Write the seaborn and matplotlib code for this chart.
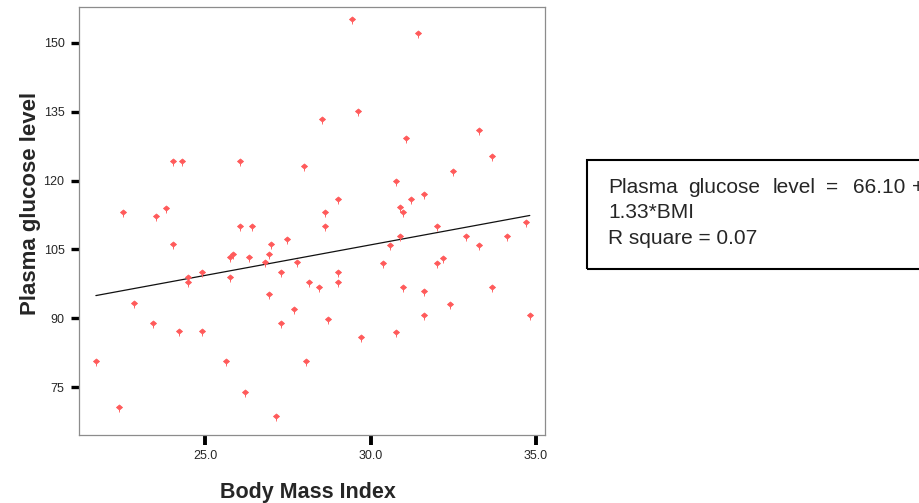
import numpy as np
import pandas as pd
import matplotlib
matplotlib.use("Agg")
import matplotlib.pyplot as plt
import seaborn as sns
from matplotlib.path import Path
from matplotlib.patches import Rectangle

# ---------------- data ----------------
bmi = [24.02, 24.31, 26.04, 28.00, 22.51, 23.52, 23.81, 29.45, 31.42, 29.62,
       28.53, 31.06, 33.28, 33.68, 32.49, 30.78, 29.02, 31.61, 31.22, 30.88,
       30.98, 28.61, 34.70, 26.04, 26.42, 24.02, 27.48, 27.00, 25.83, 25.74,
       26.93, 26.33, 26.80, 27.78, 24.49, 24.49, 24.91, 25.74, 27.30, 28.15,
       22.84, 26.93, 27.70, 23.44, 27.30, 24.21, 24.91, 21.70, 25.64, 28.06,
       26.21, 22.39, 27.13, 28.61, 32.02, 30.89, 32.87, 34.11, 30.59, 33.28,
       30.39, 32.02, 32.20, 29.02, 29.02, 28.44, 30.99, 31.61, 33.68, 32.40,
       28.72, 31.61, 34.81, 29.71, 30.78]
glucose = [124.3, 124.3, 124.3, 123.2, 113.2, 112.3, 114.0, 155.2, 152.2, 135.1,
           133.3, 129.2, 131.1, 125.3, 122.1, 119.9, 116.0, 117.1, 116.0, 114.2,
           113.2, 113.2, 111.0, 110.0, 110.0, 106.1, 107.2, 106.1, 104.1, 103.3,
           104.1, 103.3, 102.2, 102.2, 99.1, 98.0, 100.0, 99.1, 100.0, 98.0,
           93.3, 95.2, 92.1, 88.9, 88.9, 87.2, 87.2, 80.8, 80.8, 80.8,
           74.0, 70.8, 68.8, 110.0, 110.0, 108.0, 108.0, 108.0, 106.0, 106.0,
           102.1, 102.1, 103.1, 100.0, 98.0, 96.9, 96.9, 96.0, 96.9, 93.2,
           89.9, 90.7, 90.7, 86.0, 87.1]
intercept = 66.10
slope = 1.33
r_square = 0.07
x_ticks = [25.0, 30.0, 35.0]
x_ticklabels = ["25.0", "30.0", "35.0"]
y_ticks = [75, 90, 105, 120, 135, 150]
y_ticklabels = ["75", "90", "105", "120", "135", "150"]
x_title = "Body Mass Index"
y_title = "Plasma glucose level"

# ---------------- style ----------------
sns.set_style("white")
plt.rcParams["font.family"] = ["Liberation Sans", "DejaVu Sans"]

W, H = 919, 503
fig = plt.figure(figsize=(W / 100, H / 100), dpi=100)


def fx(px):
    return px / W


def fy(py):
    return 1 - py / H


ax_l, ax_r, ax_t, ax_b = 79, 545, 7.3, 435
ax = fig.add_axes([fx(ax_l), fy(ax_b), (ax_r - ax_l) / W, (ax_b - ax_t) / H])

df = pd.DataFrame({"bmi": bmi, "glucose": glucose})

# SPSS-like marker: small diamond head with a short stem below
verts = [(0, 2.5), (3, 0), (0, -2.5), (-3, 0), (0, 2.5), (0, -2.5), (0, -5)]
codes = [Path.MOVETO, Path.LINETO, Path.LINETO, Path.LINETO, Path.CLOSEPOLY,
         Path.MOVETO, Path.LINETO]
mpath = Path(verts, codes)

sns.scatterplot(data=df, x="bmi", y="glucose", marker=mpath, s=52,
                color="#ff5a5a", edgecolor="#ff5a5a", linewidth=0.6,
                ax=ax, zorder=3, legend=False)

line_x = np.array([min(bmi), max(bmi)])
line_y = intercept + slope * line_x
sns.lineplot(x=line_x, y=line_y, color="#111111", linewidth=0.9, ax=ax, zorder=2)

ax.set_xlim(21.19, 35.27)
ax.set_ylim(64.62, 157.70)
ax.set_xticks(x_ticks)
ax.set_xticklabels(x_ticklabels)
ax.set_yticks(y_ticks)
ax.set_yticklabels(y_ticklabels)
ax.set_xlabel("")
ax.set_ylabel("")

for s in ax.spines.values():
    s.set_color("#8c8c8c")
    s.set_linewidth(0.9)

ax.tick_params(axis="y", direction="out", length=5.8, width=2.4, color="black",
               pad=4.6, labelsize=9, left=True)
ax.tick_params(axis="x", direction="out", length=7.2, width=2.8, color="black",
               pad=3.6, labelsize=9, bottom=True)

# axis titles
fig.text(fx(307.5), fy(498), x_title, ha="center", va="baseline",
         fontsize=15.5, fontweight="bold")
fig.text(fx(36.5), fy(203), y_title, ha="center", va="baseline",
         rotation=90, rotation_mode="anchor", fontsize=16, fontweight="bold")

# equation box
rect = Rectangle((fx(587), fy(269)), fx(940) - fx(587), fy(160) - fy(269),
                 transform=fig.transFigure, fill=False, edgecolor="black",
                 linewidth=1.5)
fig.patches.append(rect)

eq_words = ["Plasma", "glucose", "level", "=", f"{intercept:.2f}", "+"]
eq_word_x = [608, 688, 772.5, 826, 852.5, 912]
for w, xp in zip(eq_words, eq_word_x):
    fig.text(fx(xp), fy(192.7), w, ha="left", va="baseline", fontsize=15)
fig.text(fx(608), fy(218.3), f"{slope:.2f}*BMI", ha="left", va="baseline",
         fontsize=15)
fig.text(fx(608), fy(244.3), f"R square = {r_square:.2f}", ha="left",
         va="baseline", fontsize=15)

fig.savefig("out.png", dpi=100)
